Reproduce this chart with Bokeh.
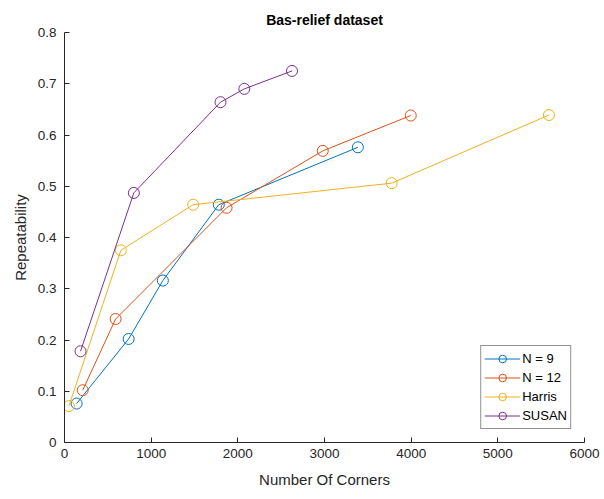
from bokeh.plotting import figure
from bokeh.models import Range1d, FixedTicker, CustomJSTickFormatter
from bokeh.embed import file_html
from bokeh.resources import INLINE

n9_x = [140, 740, 1135, 1780, 3385]
n9_y = [0.076, 0.202, 0.316, 0.464, 0.576]

n12_x = [210, 590, 1870, 2980, 3995]
n12_y = [0.102, 0.241, 0.458, 0.569, 0.638]

harris_x = [50, 650, 1485, 3775, 5590]
harris_y = [0.071, 0.375, 0.464, 0.506, 0.639]

susan_x = [185, 800, 1800, 2075, 2625]
susan_y = [0.178, 0.487, 0.664, 0.690, 0.725]

series = [
    ("N = 9", n9_x, n9_y, "#0072BD"),
    ("N = 12", n12_x, n12_y, "#D95319"),
    ("Harris", harris_x, harris_y, "#EDB120"),
    ("SUSAN", susan_x, susan_y, "#7E2F8E"),
]

x_ticks = [0, 1000, 2000, 3000, 4000, 5000, 6000]
y_ticks = [0, 0.1, 0.2, 0.3, 0.4, 0.5, 0.6, 0.7, 0.8]

FONT = "Liberation Sans"
TXT = "#262626"

p = figure(width=604, height=499, output_backend="svg", toolbar_location=None,
           x_range=Range1d(0, 6000), y_range=Range1d(0, 0.8),
           min_border_left=64, min_border_right=20, min_border_top=32,
           min_border_bottom=57)
p.outline_line_color = None
p.xgrid.visible = False
p.ygrid.visible = False

p.title.text = "Bas-relief dataset"
p.title.align = "center"
p.title.text_font = FONT
p.title.text_font_size = "14px"
p.title.text_font_style = "bold"
p.title.text_color = "#000000"
p.title.offset = 0

for lab, xs, ys, col in series:
    p.line(xs, ys, line_color=col, line_width=1, legend_label=lab)
    p.scatter(xs, ys, marker="circle", size=11, line_color=col, line_width=1,
              fill_alpha=0, legend_label=lab)

for ax in (p.xaxis[0], p.yaxis[0]):
    ax.axis_line_color = TXT
    ax.major_tick_line_color = TXT
    ax.major_tick_in = 5
    ax.major_tick_out = 0
    ax.minor_tick_line_color = None
    ax.major_label_text_font = FONT
    ax.major_label_text_font_size = "13.5px"
    ax.major_label_text_color = TXT
    ax.axis_label_text_font = FONT
    ax.axis_label_text_font_size = "15px"
    ax.axis_label_text_font_style = "normal"
    ax.axis_label_text_color = TXT

p.xaxis[0].ticker = FixedTicker(ticks=x_ticks)
p.yaxis[0].ticker = FixedTicker(ticks=y_ticks)
p.yaxis[0].formatter = CustomJSTickFormatter(code="return Number(tick.toFixed(1)).toString();")
p.xaxis[0].axis_label = "Number Of Corners"
p.yaxis[0].axis_label = "Repeatability"
p.xaxis[0].major_label_standoff = 6
p.yaxis[0].major_label_standoff = 8
p.xaxis[0].axis_label_standoff = 10
p.yaxis[0].axis_label_standoff = 6

lg = p.legend[0]
lg.location = "bottom_right"
lg.margin = 13
lg.padding = 3
lg.spacing = 0
lg.border_line_color = "#262626"
lg.border_line_width = 1
lg.label_text_font = FONT
lg.label_text_font_size = "13px"
lg.label_text_color = "#000000"
lg.glyph_width = 36
lg.glyph_height = 19
lg.label_height = 19
lg.label_standoff = 2
lg.background_fill_alpha = 1

open("out.html", "w").write(file_html(p, INLINE))
